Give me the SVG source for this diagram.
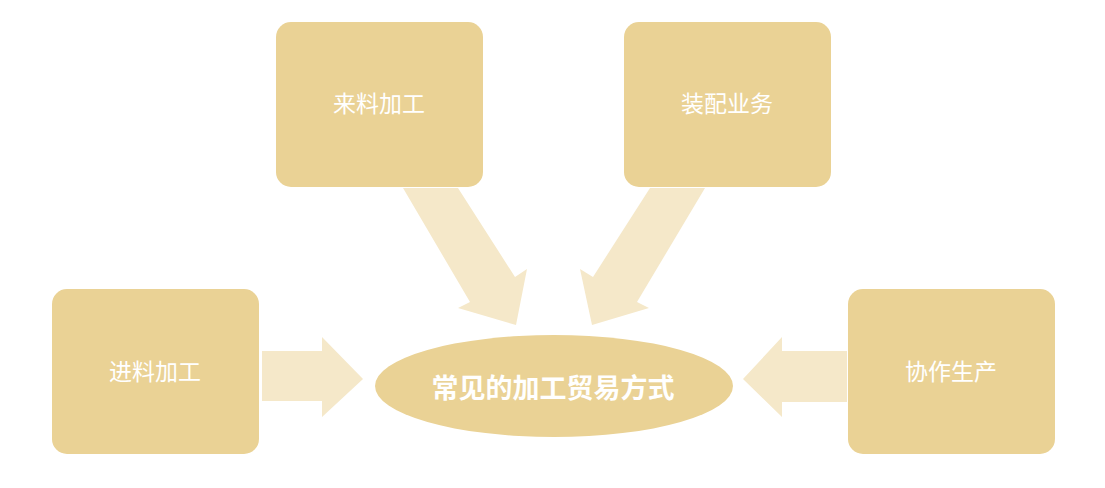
<svg xmlns="http://www.w3.org/2000/svg" width="1105" height="488" viewBox="0 0 1105 488">
<style>
.box{fill:#EAD295;}
.arrow{fill:#F5E8C9;}
.lbl{font-family:"Noto Sans CJK SC","Liberation Sans",sans-serif;font-size:23px;fill:#FFFFFF;text-anchor:middle;dominant-baseline:central;}
.main{font-family:"Noto Sans CJK SC","Liberation Sans",sans-serif;font-size:27px;font-weight:bold;fill:#FFFFFF;text-anchor:middle;dominant-baseline:central;}
</style>
<rect width="1105" height="488" fill="#FFFFFF"/>
<g id="connectors">
<polygon class="arrow" points="403,188 458,188 515,277 527,269 516,325 458,308 470,302"/>
<polygon class="arrow" points="705,188 650,188 593,277 580,269 592,325 649,308 637,302"/>
<polygon class="arrow" points="262,351 322,351 322,337 363,379 322,417 322,401 262,401"/>
<polygon class="arrow" points="847,351 782,351 782,337 743,379 782,417 782,402 847,402"/>
</g>
<g id="node-laoliao">
<rect class="box" x="276" y="22" width="207" height="165" rx="15"/>
<text class="lbl" x="379" y="102">来料加工</text>
</g>
<g id="node-zhuangpei">
<rect class="box" x="624" y="22" width="207" height="165" rx="15"/>
<text class="lbl" x="727" y="102">装配业务</text>
</g>
<g id="node-jinliao">
<rect class="box" x="52" y="289" width="207" height="165" rx="15"/>
<text class="lbl" x="155" y="370">进料加工</text>
</g>
<g id="node-xiezuo">
<rect class="box" x="848" y="289" width="207" height="165" rx="15"/>
<text class="lbl" x="951" y="370">协作生产</text>
</g>
<g id="node-center">
<ellipse class="box" cx="554" cy="386" rx="179" ry="51"/>
<text class="main" x="553" y="386">常见的加工贸易方式</text>
</g>
</svg>
